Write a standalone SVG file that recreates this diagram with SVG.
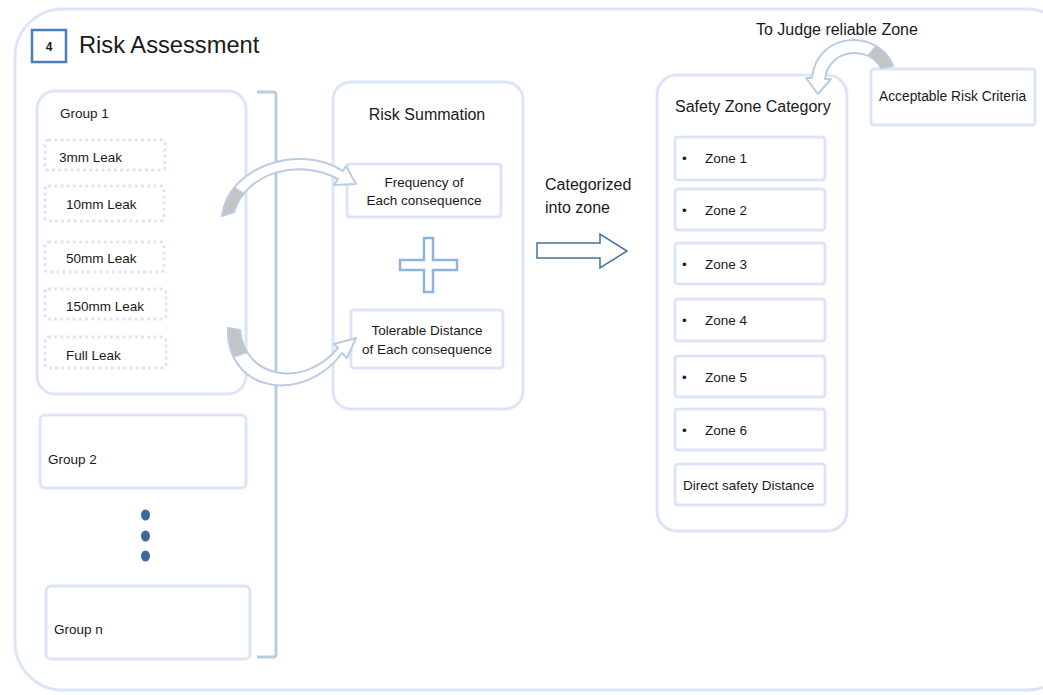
<svg xmlns="http://www.w3.org/2000/svg" width="1043" height="695" viewBox="0 0 1043 695">
  <style>
    text { font-family: "Liberation Sans", Arial, sans-serif; fill: #1a1a1a; }
    .frame { fill: #ffffff; stroke: #dce5f7; stroke-width: 3; }
    .dotted { fill: #ffffff; stroke: #dce5f7; stroke-width: 3; stroke-dasharray: 3 3.2; }
    .t13 { font-size: 13.5px; }
    .t16 { font-size: 16px; }
    .mid { text-anchor: middle; }
    .curl { stroke: #b8cce4; stroke-width: 2; stroke-linejoin: round; }
    .dot { fill: #3f689f; }
  </style>
  <defs>
    <linearGradient id="curlA" gradientUnits="userSpaceOnUse" x1="222" y1="215" x2="250" y2="170">
      <stop offset="0" stop-color="#c4c4c4"/>
      <stop offset="0.55" stop-color="#c4c4c4"/>
      <stop offset="0.6" stop-color="#ffffff"/>
    </linearGradient>
    <linearGradient id="curlB" gradientUnits="userSpaceOnUse" x1="230" y1="330" x2="245" y2="375">
      <stop offset="0" stop-color="#c4c4c4"/>
      <stop offset="0.55" stop-color="#c4c4c4"/>
      <stop offset="0.6" stop-color="#ffffff"/>
    </linearGradient>
    <linearGradient id="curlC" gradientUnits="userSpaceOnUse" x1="892" y1="66" x2="860" y2="40">
      <stop offset="0" stop-color="#c4c4c4"/>
      <stop offset="0.6" stop-color="#c4c4c4"/>
      <stop offset="0.65" stop-color="#ffffff"/>
    </linearGradient>
  </defs>

  <!-- outer panel -->
  <rect x="15" y="9" width="1060" height="681" rx="48" fill="#ffffff" stroke="#dce5f7" stroke-width="3"/>

  <!-- section title -->
  <g id="title">
    <rect x="32" y="30" width="34" height="32" fill="#ffffff" stroke="#4a7ebb" stroke-width="2.5"/>
    <text x="49" y="51" font-size="12" font-weight="bold" class="mid">4</text>
    <text x="79" y="53" font-size="23.7">Risk Assessment</text>
  </g>

  <!-- group 1 with its leak cases -->
  <g id="group1">
    <rect class="frame" x="37" y="91" width="209" height="303" rx="18"/>
    <text class="t13" x="60" y="118">Group 1</text>
  </g>
  <g id="leak3"><rect class="dotted" x="45" y="140" width="120" height="30" rx="3"/><text class="t13" x="59" y="162">3mm Leak</text></g>
  <g id="leak10"><rect class="dotted" x="45" y="186" width="119" height="35" rx="3"/><text class="t13" x="66" y="209">10mm Leak</text></g>
  <g id="leak50"><rect class="dotted" x="45" y="242" width="119" height="30" rx="3"/><text class="t13" x="66" y="263">50mm Leak</text></g>
  <g id="leak150"><rect class="dotted" x="45" y="289" width="121" height="30" rx="3"/><text class="t13" x="66" y="311">150mm Leak</text></g>
  <g id="leakFull"><rect class="dotted" x="45" y="337" width="121" height="31" rx="3"/><text class="t13" x="66" y="360">Full Leak</text></g>

  <g id="group2">
    <rect class="frame" x="40" y="415" width="206" height="73" rx="5"/>
    <text class="t13" x="48" y="464">Group 2</text>
  </g>
  <g id="ellipsis">
    <ellipse class="dot" cx="145.5" cy="515" rx="4.5" ry="5.5"/>
    <ellipse class="dot" cx="145.5" cy="536" rx="4.5" ry="5.5"/>
    <ellipse class="dot" cx="145.5" cy="556" rx="4.5" ry="5.5"/>
  </g>
  <g id="groupN">
    <rect class="frame" x="46" y="586" width="204" height="73" rx="5"/>
    <text class="t13" x="54" y="634">Group n</text>
  </g>

  <!-- risk summation -->
  <g id="riskSummation">
    <rect class="frame" x="333" y="82" width="190" height="327" rx="18"/>
    <text class="t16 mid" x="427" y="120">Risk Summation</text>
  </g>
  <g id="frequency">
    <rect class="frame" x="347" y="164" width="154" height="53" rx="3"/>
    <text class="t13 mid" x="424" y="187">Frequency of</text>
    <text class="t13 mid" x="424" y="205">Each consequence</text>
  </g>
  <g id="plus">
    <path d="M424 238 H433 V260 H457 V270 H433 V292 H424 V270 H400 V260 H424 Z" fill="#ffffff" stroke="#8fb3e0" stroke-width="2.5"/>
  </g>
  <g id="tolerable">
    <rect class="frame" x="351" y="310" width="152" height="58" rx="3"/>
    <text class="t13 mid" x="427" y="335">Tolerable Distance</text>
    <text class="t13 mid" x="427" y="354">of Each consequence</text>
  </g>

  <!-- safety zone category -->
  <g id="safetyZone">
    <rect class="frame" x="657" y="75" width="190" height="456" rx="20"/>
    <text class="t16" x="675" y="112">Safety Zone Category</text>
  </g>
  <g id="zone1"><rect class="frame" x="675" y="137" width="150" height="43" rx="3"/><text class="t13" x="682" y="163">•</text><text class="t13" x="705" y="163">Zone 1</text></g>
  <g id="zone2"><rect class="frame" x="675" y="189" width="150" height="41" rx="3"/><text class="t13" x="682" y="215">•</text><text class="t13" x="705" y="215">Zone 2</text></g>
  <g id="zone3"><rect class="frame" x="675" y="243" width="150" height="41" rx="3"/><text class="t13" x="682" y="269">•</text><text class="t13" x="705" y="269">Zone 3</text></g>
  <g id="zone4"><rect class="frame" x="675" y="299" width="150" height="42" rx="3"/><text class="t13" x="682" y="325">•</text><text class="t13" x="705" y="325">Zone 4</text></g>
  <g id="zone5"><rect class="frame" x="675" y="356" width="150" height="41" rx="3"/><text class="t13" x="682" y="382">•</text><text class="t13" x="705" y="382">Zone 5</text></g>
  <g id="zone6"><rect class="frame" x="675" y="409" width="150" height="41" rx="3"/><text class="t13" x="682" y="435">•</text><text class="t13" x="705" y="435">Zone 6</text></g>
  <g id="directDistance"><rect class="frame" x="675" y="464" width="150" height="41" rx="3"/><text class="t13" x="683" y="490">Direct safety Distance</text></g>

  <g id="acceptableRisk">
    <rect class="frame" x="871" y="69" width="164" height="56" rx="3"/>
    <text x="879" y="101" font-size="13.8">Acceptable Risk Criteria</text>
  </g>

  <!-- connectors -->
  <g id="connectors">
    <!-- bracket gathering all groups -->
    <path d="M257 92 H273 Q276 92 276 95 V654 Q276 657 273 657 H257" fill="none" stroke="#b8cce4" stroke-width="3"/>
    <!-- curved arrows into risk summation -->
    <path class="curl" fill="url(#curlA)" d="M222 216 C228 166 300 143 343 171 L346 166 L356 184 L334 185 L338 179 C300 158 246 172 234 212 Z"/>
    <path class="curl" fill="url(#curlB)" d="M228 328 C226 394 305 404 342 353 L347 358 L356 338 L334 344 L338 348 C305 388 245 380 240 330 Z"/>
    <!-- block arrow to safety zones -->
    <path d="M537 243 H600 V234 L627 251 L600 268 V258 H537 Z" fill="#ffffff" stroke="#41719c" stroke-width="1.5" stroke-linejoin="miter"/>
    <!-- curved arrow from acceptable risk criteria -->
    <path class="curl" fill="url(#curlC)" d="M893 66 C881 31 818 28 812 78 L806 78 L818 94 L831 79 L825 79 C829 48 869 45 881 68 Z"/>
  </g>

  <!-- connector labels -->
  <text class="t16" x="545" y="190">Categorized</text>
  <text class="t16" x="545" y="213">into zone</text>
  <text class="t16" x="756" y="35">To Judge reliable Zone</text>
</svg>
